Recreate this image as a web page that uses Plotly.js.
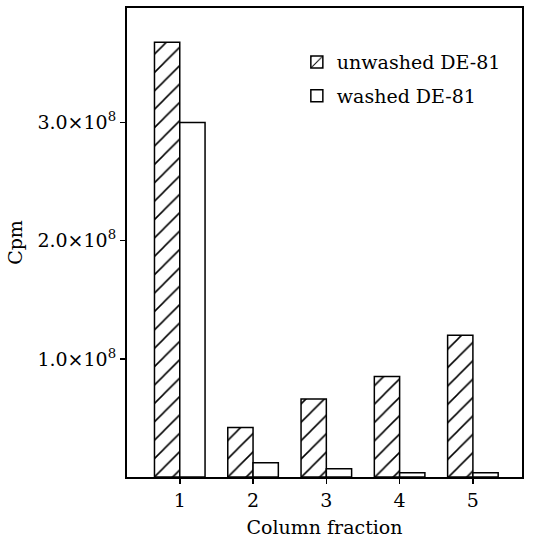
<!DOCTYPE html>
<html>
<head>
<meta charset="utf-8">
<script src="https://cdn.plot.ly/plotly-3.0.1.min.js"></script>
<style>html,body{margin:0;padding:0;background:#fff;}#chart{width:535px;height:541px;}</style>
</head>
<body>
<div id="chart"></div>
<script>
var fractions = [1, 2, 3, 4, 5];
var unwashed = [3.68e8, 0.42e8, 0.66e8, 0.85e8, 1.20e8];
var washed = [3.00e8, 0.12e8, 0.07e8, 0.035e8, 0.035e8];
var yTickVals = [1e8, 2e8, 3e8];
var yTickText = ["1.0×10<sup>8</sup>", "2.0×10<sup>8</sup>", "3.0×10<sup>8</sup>"];
var seriesNames = ["unwashed DE-81", "washed DE-81"];

var font = {family: "DejaVu Serif, Liberation Serif, serif", color: "#000", size: 19};

var traces = [
  {
    type: "bar", x: fractions, y: unwashed, name: seriesNames[0], legendgroup: "u",
    marker: {color: "#fff", line: {color: "#000", width: 1.5},
             pattern: {shape: "/", fgcolor: "#000", bgcolor: "#fff", size: 13, solidity: 0.12}}
  },
  {
    type: "bar", x: fractions, y: washed, name: seriesNames[1], legendgroup: "w",
    marker: {color: "#fff", line: {color: "#000", width: 1.5}}
  }
];

var layout = {
  width: 535, height: 541,
  margin: {l: 127, r: 13, t: 8, b: 64},
  paper_bgcolor: "#fff", plot_bgcolor: "#fff",
  font: font,
  barmode: "group", bargap: 0.31, bargroupgap: 0,
  showlegend: true,
  legend: {x: 0.43, y: 0.925, xanchor: "left", yanchor: "top", bgcolor: "rgba(0,0,0,0)",
           traceorder: "grouped", tracegroupgap: 6,
           font: {family: font.family, size: 19, color: "#000"}, itemwidth: 30},
  xaxis: {
    range: [0.28, 5.67], tickvals: fractions, ticktext: fractions.map(String),
    ticks: "outside", ticklen: 5, tickwidth: 1.5, tickcolor: "#000",
    tickfont: {family: font.family, size: 19},
    showline: true, linecolor: "#000", linewidth: 2, mirror: true,
    showgrid: false, zeroline: false,
    title: {text: "Column fraction", font: {family: font.family, size: 19}, standoff: 11}
  },
  yaxis: {
    range: [0, 3.97e8], tickvals: yTickVals, ticktext: yTickText,
    ticks: "outside", ticklen: 5, tickwidth: 1.5, tickcolor: "#000",
    tickfont: {family: font.family, size: 19},
    showline: true, linecolor: "#000", linewidth: 2, mirror: true,
    showgrid: false, zeroline: false,
    title: {text: "Cpm", font: {family: font.family, size: 19}, standoff: 10}
  }
};

Plotly.newPlot("chart", traces, layout, {displayModeBar: false, staticPlot: true});
</script>
</body>
</html>
